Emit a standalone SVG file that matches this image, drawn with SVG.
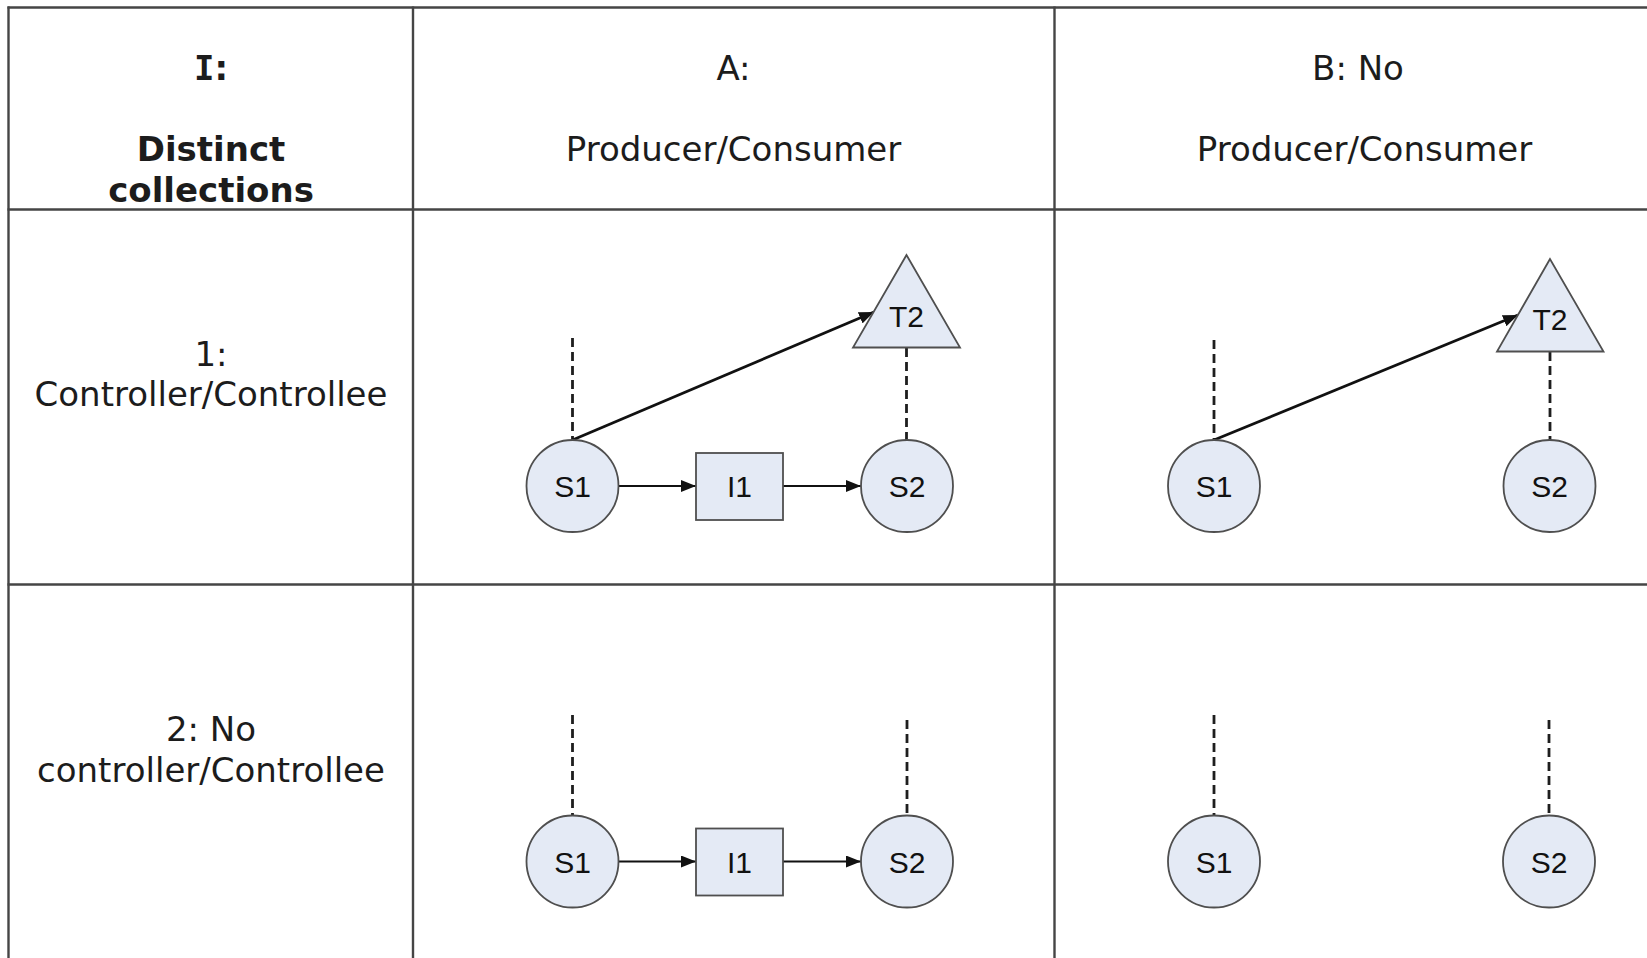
<svg xmlns="http://www.w3.org/2000/svg" width="1647" height="958" viewBox="0 0 1647 958">
  <style>
    .grid line { stroke: #454545; stroke-width: 2.4; }
    .hd { font-family: "DejaVu Sans", Verdana, sans-serif; font-size: 34px; fill: #1c1c1c; text-anchor: middle; }
    .b { font-weight: bold; }
    .serif-i { font-family: "DejaVu Sans Mono", monospace; }
    .node circle, .node rect, .node polygon { fill: #e4eaf5; stroke: #4f4f4f; stroke-width: 1.8; }
    .lbl { font-family: "Liberation Sans", Arial, sans-serif; font-size: 30px; fill: #111; text-anchor: middle; }
    .edge { stroke: #111; stroke-width: 1.8; fill: none; }
    .diag { stroke-width: 2.8; }
    .dash { stroke: #1e1e1e; stroke-width: 2.8; stroke-dasharray: 9 5; fill: none; }
  </style>
  <defs>
    <marker id="arrow" markerUnits="userSpaceOnUse" markerWidth="15" markerHeight="12" refX="15" refY="6" orient="auto">
      <path d="M0,0 L15,6 L0,12 Z" fill="#111"/>
    </marker>
  </defs>

  <rect width="1647" height="958" fill="#ffffff"/>

  <!-- table grid -->
  <g id="grid" class="grid">
    <line x1="7.5" y1="7.5" x2="1647" y2="7.5"/>
    <line x1="7.5" y1="209.5" x2="1647" y2="209.5"/>
    <line x1="7.5" y1="584.5" x2="1647" y2="584.5"/>
    <line x1="8.5" y1="6.5" x2="8.5" y2="958"/>
    <line x1="413" y1="6.5" x2="413" y2="958"/>
    <line x1="1054.5" y1="6.5" x2="1054.5" y2="958"/>
  </g>

  <!-- header and row labels -->
  <g id="headers">
    <text class="hd b" x="211" y="80"><tspan class="serif-i">I</tspan>:</text>
    <text class="hd b" x="211" y="161">Distinct</text>
    <text class="hd b" x="211" y="202">collections</text>
    <text class="hd" x="733.5" y="80">A:</text>
    <text class="hd" x="733.5" y="161">Producer/Consumer</text>
    <text class="hd" x="1358" y="80">B: No</text>
    <text class="hd" x="1364.5" y="161">Producer/Consumer</text>
    <text class="hd" x="211" y="366">1:</text>
    <text class="hd" x="211" y="406">Controller/Controllee</text>
    <text class="hd" x="211" y="741">2: No</text>
    <text class="hd" x="211" y="782">controller/Controllee</text>
  </g>

  <!-- connectors -->
  <g id="connectors">
    <!-- cell A1 -->
    <line class="dash" x1="572.5" y1="338" x2="572.5" y2="440"/>
    <line class="dash" x1="906.5" y1="348" x2="906.5" y2="440"/>
    <line class="edge" x1="618.5" y1="486" x2="696" y2="486" marker-end="url(#arrow)"/>
    <line class="edge" x1="783" y1="486" x2="861" y2="486" marker-end="url(#arrow)"/>
    <line class="edge diag" x1="572.5" y1="440" x2="874" y2="312" marker-end="url(#arrow)"/>
    <!-- cell B1 -->
    <line class="dash" x1="1214" y1="340" x2="1214" y2="440"/>
    <line class="dash" x1="1550" y1="352" x2="1550" y2="440"/>
    <line class="edge diag" x1="1214" y1="440" x2="1518" y2="315" marker-end="url(#arrow)"/>
    <!-- cell A2 -->
    <line class="dash" x1="572.5" y1="715" x2="572.5" y2="815.5"/>
    <line class="dash" x1="907" y1="720" x2="907" y2="815.5"/>
    <line class="edge" x1="618.5" y1="861.5" x2="696" y2="861.5" marker-end="url(#arrow)"/>
    <line class="edge" x1="783" y1="861.5" x2="861" y2="861.5" marker-end="url(#arrow)"/>
    <!-- cell B2 -->
    <line class="dash" x1="1214" y1="715" x2="1214" y2="815.5"/>
    <line class="dash" x1="1549" y1="720" x2="1549" y2="815.5"/>
  </g>

  <!-- nodes: cell A1 -->
  <g id="a1-s1" class="node"><circle cx="572.5" cy="486" r="46"/><text class="lbl" x="572.5" y="497">S1</text></g>
  <g id="a1-i1" class="node"><rect x="696" y="453" width="87" height="67"/><text class="lbl" x="739.5" y="497">I1</text></g>
  <g id="a1-s2" class="node"><circle cx="907" cy="486" r="46"/><text class="lbl" x="907" y="497">S2</text></g>
  <g id="a1-t2" class="node"><polygon points="906.5,255 853,347.5 960,347.5"/><text class="lbl" x="906.5" y="327">T2</text></g>

  <!-- nodes: cell B1 -->
  <g id="b1-s1" class="node"><circle cx="1214" cy="486" r="46"/><text class="lbl" x="1214" y="497">S1</text></g>
  <g id="b1-s2" class="node"><circle cx="1549.5" cy="486" r="46"/><text class="lbl" x="1549.5" y="497">S2</text></g>
  <g id="b1-t2" class="node"><polygon points="1550,259 1497,351.5 1603.5,351.5"/><text class="lbl" x="1550" y="330">T2</text></g>

  <!-- nodes: cell A2 -->
  <g id="a2-s1" class="node"><circle cx="572.5" cy="861.5" r="46"/><text class="lbl" x="572.5" y="872.5">S1</text></g>
  <g id="a2-i1" class="node"><rect x="696" y="828.5" width="87" height="67"/><text class="lbl" x="739.5" y="872.5">I1</text></g>
  <g id="a2-s2" class="node"><circle cx="907" cy="861.5" r="46"/><text class="lbl" x="907" y="872.5">S2</text></g>

  <!-- nodes: cell B2 -->
  <g id="b2-s1" class="node"><circle cx="1214" cy="861.5" r="46"/><text class="lbl" x="1214" y="872.5">S1</text></g>
  <g id="b2-s2" class="node"><circle cx="1549" cy="861.5" r="46"/><text class="lbl" x="1549" y="872.5">S2</text></g>
</svg>
